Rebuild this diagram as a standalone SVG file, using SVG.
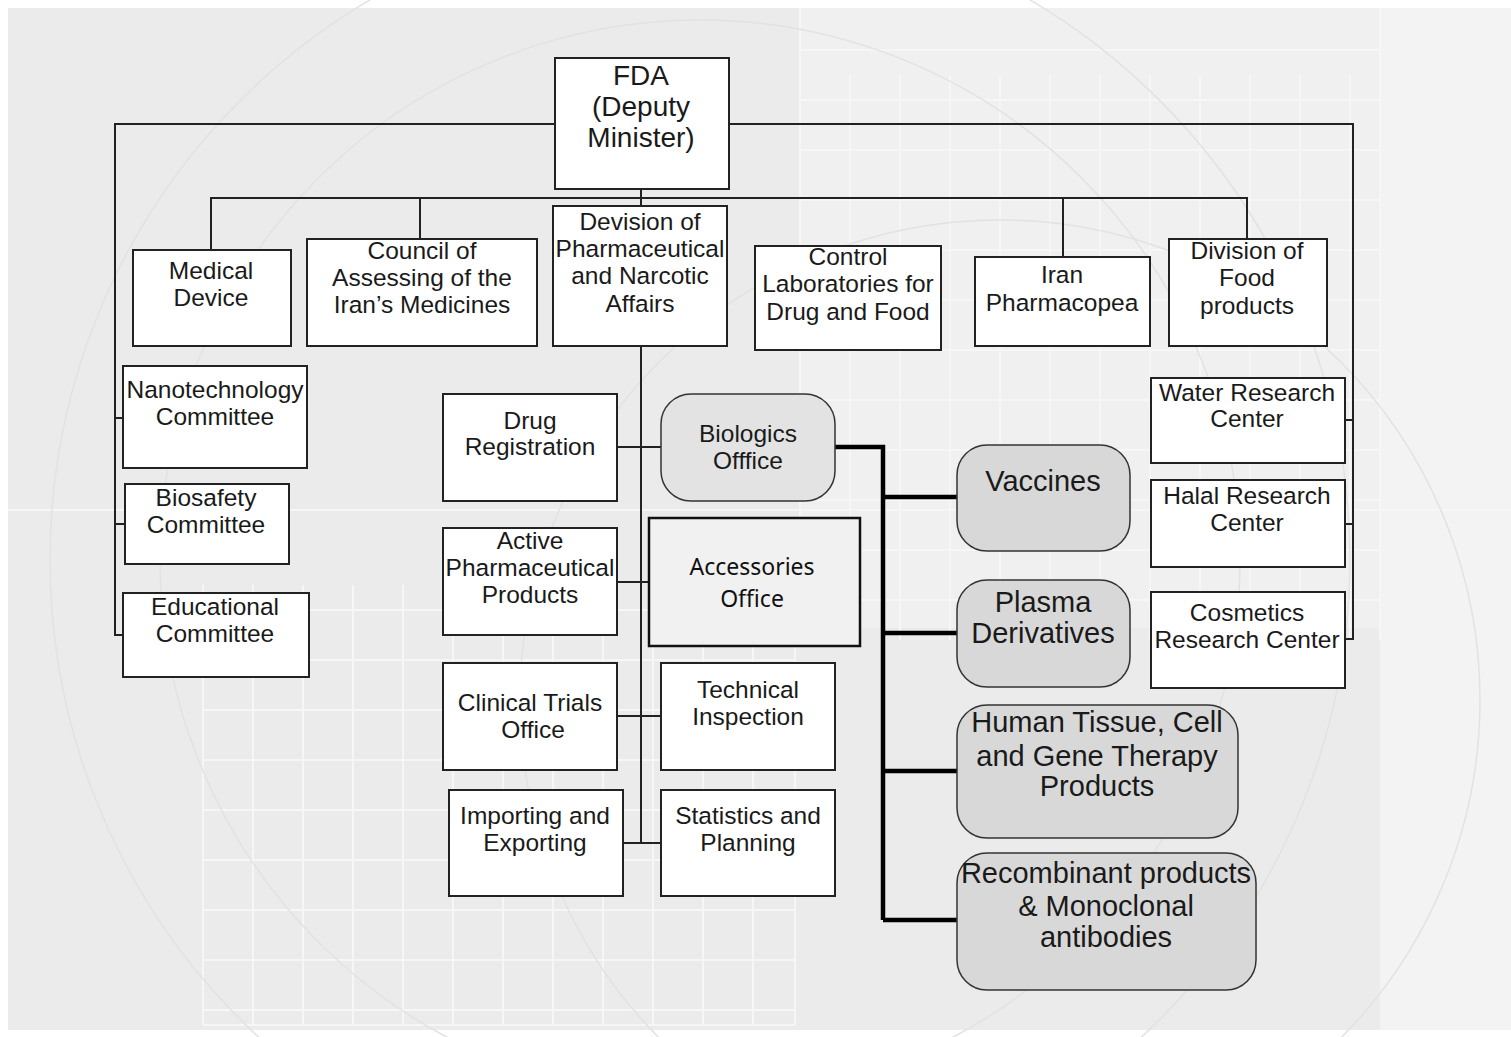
<svg xmlns="http://www.w3.org/2000/svg" width="1511" height="1037" viewBox="0 0 1511 1037">
<defs>
<style>
.bx{fill:#ffffff;stroke:#222;stroke-width:2}
.rb{fill:#e3e3e3;stroke:#333;stroke-width:1.5}
.rb2{fill:#d8d8d8;stroke:#333;stroke-width:1.5}
.acc{fill:#f1f1f1;stroke:#111;stroke-width:2.5}
.t{font-family:"Liberation Sans",Arial,sans-serif;font-size:24.5px;fill:#1a1a1a;text-anchor:middle}
.tf{font-family:"Liberation Sans",Arial,sans-serif;font-size:28px;fill:#1a1a1a;text-anchor:middle}
.tb{font-family:"Liberation Sans",Arial,sans-serif;font-size:29px;fill:#1a1a1a;text-anchor:middle}
.tc{font-family:"Noto Sans","Open Sans",sans-serif;font-size:23px;fill:#111;text-anchor:middle}
.ln{fill:none;stroke:#222;stroke-width:2}
.lk{fill:none;stroke:#000;stroke-width:4.5}
.g{stroke:#f6f6f6;stroke-width:2;fill:none}
.c{stroke:#e2e2e2;stroke-width:1.5;fill:none}
</style>
</defs>
<rect x="0" y="0" width="1511" height="1037" fill="#ffffff"/>
<rect x="8" y="8" width="1503" height="1022" fill="#ebebeb"/>
<rect x="800" y="8" width="580" height="620" fill="#f0f0f0"/>
<rect x="1380" y="8" width="131" height="1022" fill="#f3f3f3"/>
<g id="background">
<path class="g" d="M800 8V640 M850 75V640 M900 75V640 M950 75V640 M1000 75V640 M1050 75V640 M1100 75V640 M1150 75V640 M1200 75V640 M1250 75V640 M1300 75V640 M1350 75V640 M1380 8V640"/>
<path class="g" d="M800 50H1380 M800 100H1380 M800 150H1380 M800 200H1380 M800 250H1380 M800 300H1380 M800 350H1380 M800 400H1380 M800 450H1380 M800 500H1380 M800 550H1380 M800 600H1380"/>
<path class="g" d="M203 585V1025 M253 585V1025 M303 585V1025 M353 585V1025 M403 585V1025 M453 585V1025 M503 585V1025 M553 585V1025 M603 585V1025 M653 585V1025 M703 585V1025 M753 585V1025 M795 585V1025"/>
<path class="g" d="M203 610H795 M203 660H795 M203 710H795 M203 760H795 M203 810H795 M203 860H795 M203 910H795 M203 960H795 M203 1010H795 M203 1025H795"/>
<path class="g" d="M8 510H1511"/>
<circle class="c" cx="700" cy="560" r="650"/>
<circle class="c" cx="700" cy="560" r="540"/>
<circle class="c" cx="1000" cy="700" r="480"/>
</g>
<g id="connectors">
<path class="ln" d="M555 124H115V635H123 M729 124H1353V639H1345"/>
<path class="ln" d="M115 418H123 M115 524H125 M1353 420H1345 M1353 524H1345"/>
<path class="ln" d="M641 189V206 M211 250V198H1247V239 M420 198V239 M1063 198V257"/>
<path class="ln" d="M641 346V843 M617 447H661 M617 582H649 M617 716H661 M623 843H661"/>
<path class="lk" d="M835 447H883V920 M883 497H957 M883 633H957 M883 771H957 M883 920H957"/>
</g>
<g id="n-fda"><rect class="bx" x="555" y="58" width="174" height="131"/><text class="tf" x="641" y="85">FDA</text><text class="tf" x="641" y="116">(Deputy</text><text class="tf" x="641" y="147">Minister)</text></g>
<g id="n-medical"><rect class="bx" x="133" y="250" width="158" height="96"/><text class="t" x="211" y="279">Medical</text><text class="t" x="211" y="306">Device</text></g>
<g id="n-council"><rect class="bx" x="307" y="239" width="230" height="107"/><text class="t" x="422" y="259">Council of</text><text class="t" x="422" y="286">Assessing of the</text><text class="t" x="422" y="313">Iran’s Medicines</text></g>
<g id="n-devision"><rect class="bx" x="553" y="206" width="174" height="140"/><text class="t" x="640" y="230">Devision of</text><text class="t" x="640" y="257">Pharmaceutical</text><text class="t" x="640" y="284">and Narcotic</text><text class="t" x="640" y="312">Affairs</text></g>
<g id="n-control"><rect class="bx" x="755" y="246" width="186" height="104"/><text class="t" x="848" y="265">Control</text><text class="t" x="848" y="292">Laboratories for</text><text class="t" x="848" y="320">Drug and Food</text></g>
<g id="n-iran"><rect class="bx" x="975" y="257" width="175" height="89"/><text class="t" x="1062" y="283">Iran</text><text class="t" x="1062" y="311">Pharmacopea</text></g>
<g id="n-food"><rect class="bx" x="1169" y="239" width="158" height="107"/><text class="t" x="1247" y="259">Division of</text><text class="t" x="1247" y="286">Food</text><text class="t" x="1247" y="314">products</text></g>
<g id="n-nano"><rect class="bx" x="123" y="366" width="184" height="102"/><text class="t" x="215" y="398">Nanotechnology</text><text class="t" x="215" y="425">Committee</text></g>
<g id="n-bio"><rect class="bx" x="125" y="484" width="164" height="80"/><text class="t" x="206" y="506">Biosafety</text><text class="t" x="206" y="533">Committee</text></g>
<g id="n-edu"><rect class="bx" x="123" y="593" width="186" height="84"/><text class="t" x="215" y="615">Educational</text><text class="t" x="215" y="642">Committee</text></g>
<g id="n-water"><rect class="bx" x="1151" y="378" width="194" height="85"/><text class="t" x="1247" y="401">Water Research</text><text class="t" x="1247" y="427">Center</text></g>
<g id="n-halal"><rect class="bx" x="1151" y="480" width="194" height="87"/><text class="t" x="1247" y="504">Halal Research</text><text class="t" x="1247" y="531">Center</text></g>
<g id="n-cosm"><rect class="bx" x="1151" y="592" width="194" height="96"/><text class="t" x="1247" y="621">Cosmetics</text><text class="t" x="1247" y="648">Research Center</text></g>
<g id="n-drug"><rect class="bx" x="443" y="394" width="174" height="107"/><text class="t" x="530" y="429">Drug</text><text class="t" x="530" y="455">Registration</text></g>
<g id="n-biologics"><rect class="rb" x="661" y="394" width="174" height="107" rx="30"/><text class="t" x="748" y="442">Biologics</text><text class="t" x="748" y="469">Offfice</text></g>
<g id="n-active"><rect class="bx" x="443" y="528" width="174" height="107"/><text class="t" x="530" y="549">Active</text><text class="t" x="530" y="576">Pharmaceutical</text><text class="t" x="530" y="603">Products</text></g>
<g id="n-acc"><rect class="acc" x="649" y="518" width="211" height="128"/><text class="tc" x="752" y="575">Accessories</text><text class="tc" x="752" y="607">Office</text></g>
<g id="n-clinical"><rect class="bx" x="443" y="663" width="174" height="107"/><text class="t" x="530" y="711">Clinical Trials</text><text class="t" x="533" y="738">Office</text></g>
<g id="n-tech"><rect class="bx" x="661" y="663" width="174" height="107"/><text class="t" x="748" y="698">Technical</text><text class="t" x="748" y="725">Inspection</text></g>
<g id="n-import"><rect class="bx" x="449" y="790" width="174" height="106"/><text class="t" x="535" y="824">Importing and</text><text class="t" x="535" y="851">Exporting</text></g>
<g id="n-stat"><rect class="bx" x="661" y="790" width="174" height="106"/><text class="t" x="748" y="824">Statistics and</text><text class="t" x="748" y="851">Planning</text></g>
<g id="n-vacc"><rect class="rb2" x="957" y="445" width="173" height="106" rx="30"/><text class="tb" x="1043" y="491">Vaccines</text></g>
<g id="n-plasma"><rect class="rb2" x="957" y="580" width="173" height="107" rx="30"/><text class="tb" x="1043" y="612">Plasma</text><text class="tb" x="1043" y="643">Derivatives</text></g>
<g id="n-human"><rect class="rb2" x="957" y="705" width="281" height="133" rx="30"/><text class="tb" x="1097" y="732">Human Tissue, Cell</text><text class="tb" x="1097" y="766">and Gene Therapy</text><text class="tb" x="1097" y="796">Products</text></g>
<g id="n-recomb"><rect class="rb2" x="957" y="853" width="299" height="137" rx="30"/><text class="tb" x="1106" y="883">Recombinant products</text><text class="tb" x="1106" y="916">&amp; Monoclonal</text><text class="tb" x="1106" y="947">antibodies</text></g>
</svg>
